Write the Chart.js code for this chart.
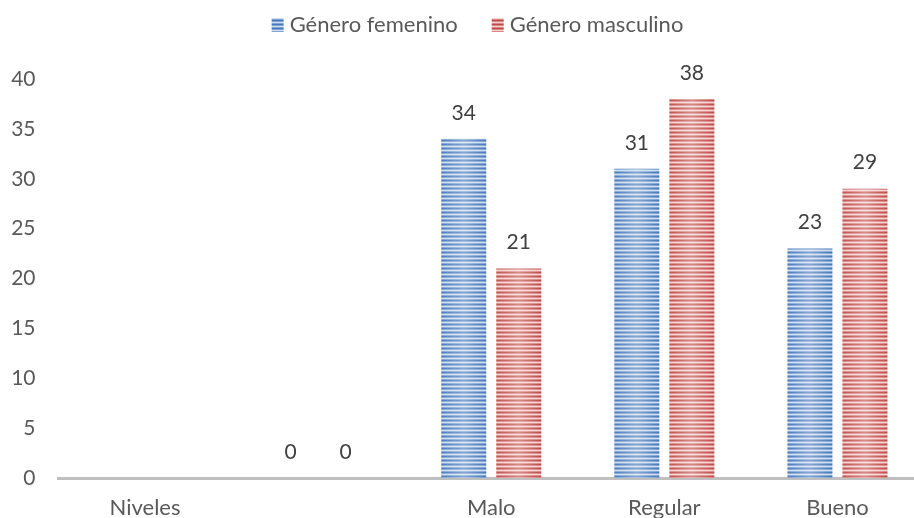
<!DOCTYPE html>
<html>
<head>
<meta charset="utf-8">
<script src="https://cdn.jsdelivr.net/npm/chart.js@4.4.1/dist/chart.umd.min.js"></script>
<style>
  html, body { margin: 0; padding: 0; background: #ffffff; overflow: hidden; }
  #wrap { width: 956px; height: 518px; }
</style>
</head>
<body>
<div id="wrap"><canvas id="chart" width="956" height="518"></canvas></div>
<script>
// Categories along the x axis
const categories = ["Niveles", "", "Malo", "Regular", "Bueno"];
// Counts per gender (the first category is only a heading, no bars)
const femenino = [null, 0, 34, 31, 23];
const masculino = [null, 0, 21, 38, 29];
const seriesNames = ["Género femenino", "Género masculino"];
// Y axis tick range
const yMin = 0, yMax = 40, yStep = 5;

const FONT = "Lato, 'Open Sans', sans-serif";
const TEXT = '#595959';

// Horizontal stripe fill used for the bars
function stripes(dark, mid, light) {
  const c = document.createElement('canvas');
  c.width = 1; c.height = 4;
  const g = c.getContext('2d');
  [dark, mid, light, mid].forEach((col, i) => { g.fillStyle = col; g.fillRect(0, i, 1, 1); });
  return g.createPattern(c, 'repeat');
}
const ctx = document.getElementById('chart').getContext('2d');
const blueFill = stripes('#4677b8', '#7fa3d3', '#cddcf0');
const redFill = stripes('#be4b48', '#d98684', '#f5d2d1');

// Soft highlight across each bar and value labels above them
const barDecor = {
  id: 'barDecor',
  afterDatasetsDraw(chart) {
    const c = chart.ctx;
    chart.data.datasets.forEach((ds, di) => {
      const meta = chart.getDatasetMeta(di);
      meta.data.forEach((bar, i) => {
        const v = ds.data[i];
        if (v === null || v === undefined) return;
        const left = bar.x - bar.width / 2, right = bar.x + bar.width / 2;
        const h = bar.base - bar.y;
        if (h > 0) {
          const g = c.createLinearGradient(left, 0, right, 0);
          g.addColorStop(0, 'rgba(255,255,255,0.05)');
          g.addColorStop(0.5, 'rgba(255,255,255,0.35)');
          g.addColorStop(1, 'rgba(255,255,255,0.0)');
          c.save();
          c.fillStyle = g;
          c.fillRect(left, bar.y, bar.width, h);
          c.restore();
        }
        c.save();
        c.font = "21px " + FONT;
        c.fillStyle = '#404040';
        c.textAlign = 'center';
        c.textBaseline = 'middle';
        c.fillText(String(v), bar.x, bar.y - 26);
        c.restore();
      });
    });
  }
};

// Legend row drawn above the plot
const legendRow = {
  id: 'legendRow',
  afterDraw(chart) {
    const c = chart.ctx;
    c.save();
    c.font = "22px " + FONT;
    c.textBaseline = 'middle';
    const boxW = 12, boxH = 14, gap = 6, itemGap = 34, cy = 25;
    const items = chart.data.datasets.map(d => ({ text: d.label, fill: d.backgroundColor, w: c.measureText(d.label).width }));
    const total = items.reduce((s, it) => s + boxW + gap + it.w, 0) + itemGap * (items.length - 1);
    let x = 477.5 - total / 2;
    items.forEach(it => {
      c.fillStyle = it.fill;
      c.fillRect(x, cy - boxH / 2, boxW, boxH);
      x += boxW + gap;
      c.fillStyle = TEXT;
      c.fillText(it.text, x, cy);
      x += it.w + itemGap;
    });
    c.restore();
  }
};

new Chart(ctx, {
  type: 'bar',
  data: {
    labels: categories,
    datasets: [
      { label: seriesNames[0], data: femenino, backgroundColor: blueFill, borderWidth: 0,
        categoryPercentage: 0.636, barPercentage: 0.818 },
      { label: seriesNames[1], data: masculino, backgroundColor: redFill, borderWidth: 0,
        categoryPercentage: 0.636, barPercentage: 0.818 }
    ]
  },
  options: {
    responsive: false,
    animation: false,
    layout: { padding: { left: 0, right: 32, top: 79, bottom: 0 } },
    plugins: {
      legend: { display: false },
      tooltip: { enabled: false }
    },
    scales: {
      x: {
        grid: { display: false, drawTicks: false },
        border: { display: true, color: '#bfbfbf', width: 3 },
        ticks: { font: { family: FONT, size: 22 }, color: TEXT, padding: 17, maxRotation: 0, autoSkip: false },
        afterFit(scale) { scale.height = 40; }
      },
      y: {
        min: yMin, max: yMax,
        grid: { display: false, drawTicks: false },
        border: { display: false },
        ticks: { stepSize: yStep, font: { family: FONT, size: 21 }, color: TEXT, padding: 23 },
        afterFit(scale) { scale.width = 58.5; }
      }
    }
  },
  plugins: [barDecor, legendRow]
});
</script>
</body>
</html>
